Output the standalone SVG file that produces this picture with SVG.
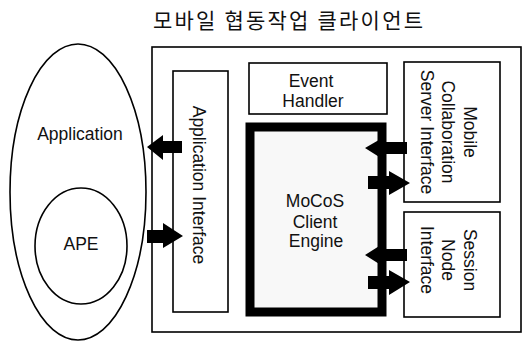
<svg xmlns="http://www.w3.org/2000/svg" width="526" height="343" viewBox="0 0 526 343">
<style>
.box{fill:#fff;stroke:#000;stroke-width:1.6}
.t{font-family:"Liberation Sans",Arial,sans-serif;font-size:17.5px;fill:#111;text-anchor:middle}
.title{font-family:"Noto Sans CJK KR","Noto Sans",sans-serif;font-size:21px;fill:#111}
.arr{fill:#000;stroke:none}
</style>
<rect width="526" height="343" fill="#fff"/>
<text class="title" x="153" y="28" textLength="270" lengthAdjust="spacing">모바일 협동작업 클라이언트</text>
<g id="application">
<ellipse cx="78" cy="192" rx="68" ry="148" fill="none" stroke="#000" stroke-width="1.6"/>
<text class="t" x="80" y="140">Application</text>
</g>
<g id="ape">
<ellipse cx="81" cy="246" rx="46" ry="58" fill="none" stroke="#000" stroke-width="1.6"/>
<text class="t" x="81" y="250">APE</text>
</g>
<g id="client">
<rect class="box" x="152" y="47" width="369" height="285"/>
</g>
<g id="app-interface">
<rect class="box" x="173" y="71" width="55" height="241"/>
<text class="t" transform="translate(199,185) rotate(90)" x="0" y="6">Application Interface</text>
</g>
<g id="event-handler">
<rect class="box" x="249" y="63" width="138" height="51"/>
<text class="t" x="311" y="87">Event</text>
<text class="t" x="313" y="107">Handler</text>
</g>
<g id="engine">
<rect x="250" y="127" width="132" height="185" fill="#f8f8f8" stroke="#000" stroke-width="9"/>
<text class="t" x="315" y="207">MoCoS</text>
<text class="t" x="315" y="228">Client</text>
<text class="t" x="316" y="247">Engine</text>
</g>
<g id="mcs-interface">
<rect class="box" x="404" y="62" width="96" height="140"/>
<g transform="translate(448,132) rotate(90)">
<text class="t" x="0" y="-16">Mobile</text>
<text class="t" x="0" y="6">Collaboration</text>
<text class="t" x="0" y="27">Server Interface</text>
</g>
</g>
<g id="session-interface">
<rect class="box" x="404" y="212" width="96" height="105"/>
<g transform="translate(448,260) rotate(90)">
<text class="t" x="0" y="-16">Session</text>
<text class="t" x="0" y="6">Node</text>
<text class="t" x="0" y="27">Interface</text>
</g>
</g>
<g id="connectors">
<polygon class="arr" points="147,147 163,135 163,141 182,141 182,153 163,153 163,160"/>
<polygon class="arr" points="183,236 163,223 163,230 147,230 147,243 163,243 163,248"/>
<polygon class="arr" points="365,148 384,137 384,142 407,142 407,154 384,154 384,160"/>
<polygon class="arr" points="410,183 389,171 389,176 368,176 368,189 389,189 389,195"/>
<polygon class="arr" points="365,255 384,243 384,249 407,249 407,261 384,261 384,267"/>
<polygon class="arr" points="410,282 389,270 389,276 368,276 368,289 389,289 389,295"/>
</g>
</svg>
